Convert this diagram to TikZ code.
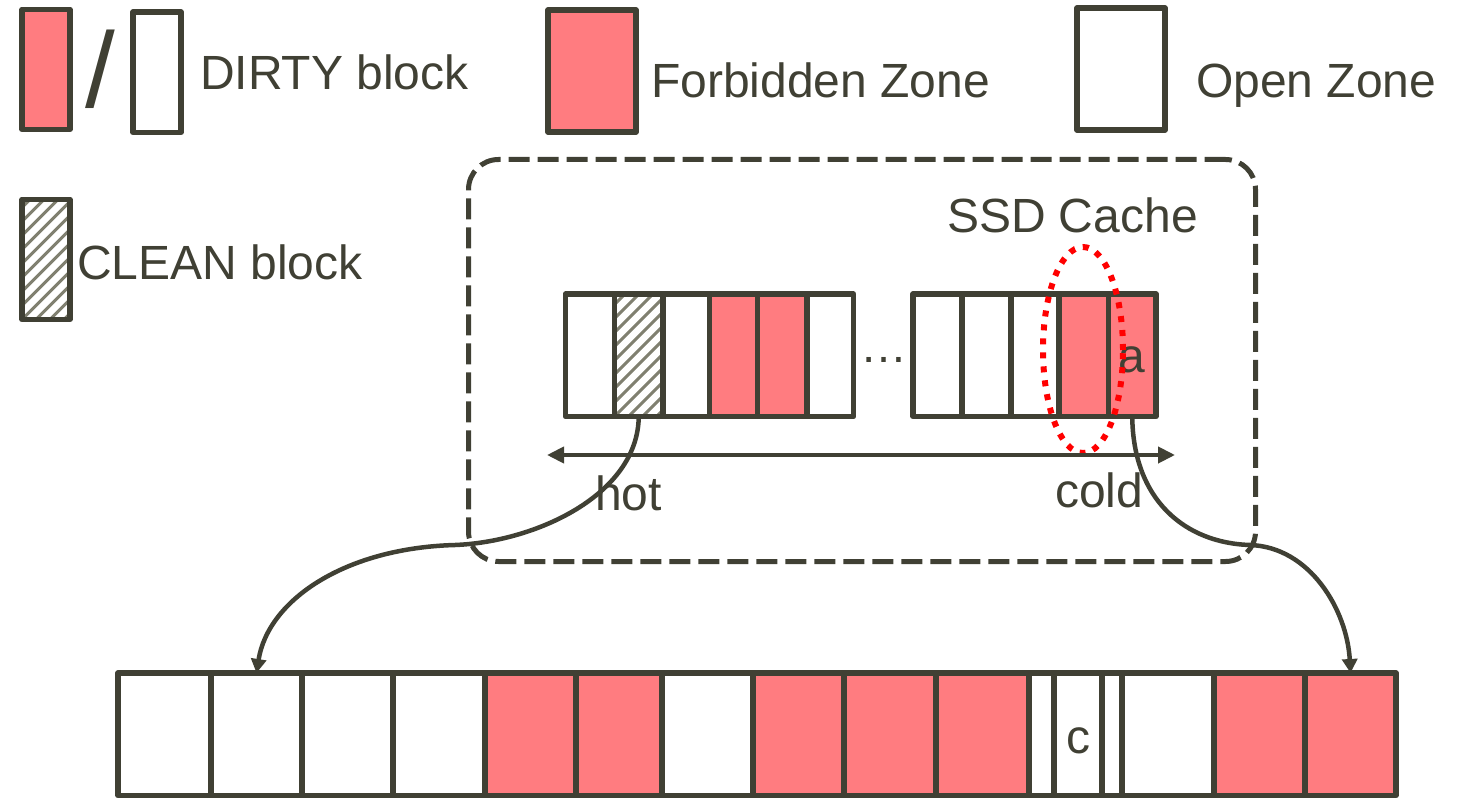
\documentclass[tikz,border=0pt]{standalone}
\usepackage{fontspec}
\setmainfont{Liberation Sans}
\usetikzlibrary{arrows.meta,shapes.geometric}
\definecolor{olive}{RGB}{64,64,52}
\definecolor{zonered}{RGB}{255,124,128}
\definecolor{hatchc}{RGB}{128,128,112}
\definecolor{selred}{RGB}{255,0,0}
\begin{document}
\begin{tikzpicture}[x=1pt,y=-1pt,
  lbl/.style={text=olive, inner sep=0pt, outer sep=0pt, anchor=base west, font=\fontsize{48}{56}\selectfont},
  box/.style={draw=olive, line width=5.5pt, inner sep=0pt, outer sep=0pt, anchor=north west, line join=round},
  cellw/.style={box, fill=white},
  cellr/.style={box, fill=zonered},
  hatched/.style={box, fill=white, path picture={
      \foreach \k in {-14,...,6}{\draw[hatchc, line width=3pt] ([xshift=\k*14pt]path picture bounding box.south west) -- ++(220pt,220pt);}}},
  curve/.style={draw=olive, line width=4.5pt, -{Triangle[length=14pt,width=15pt]}},
  span/.style={draw=olive, line width=4pt, {Triangle[length=17pt,width=16pt]}-{Triangle[length=17pt,width=16pt]}},
  ssdbox/.style={draw=olive, line width=5pt, dash pattern=on 21pt off 8pt, rounded corners=30pt, inner sep=0pt, anchor=north west},
  selring/.style={ellipse, draw=selred, line width=6pt, dash pattern=on 6pt off 8pt, inner sep=0pt}
]
\useasboundingbox (0,0) rectangle (1458,799);

% ---------- legend ----------
\node[cellr, minimum width=48pt, minimum height=120pt] (legdirtyr) at (22,9.5) {};
\node[text=olive, inner sep=0pt, anchor=base west, font=\fontsize{107}{110}\selectfont] (legslash) at (85,108) {/};
\node[cellw, minimum width=48pt, minimum height=120.5pt] (legdirtyw) at (133,12) {};
\node[lbl] (legdirtyt) at (200,90) {DIRTY block};
\node[cellr, minimum width=88pt, minimum height=122pt] (legforb) at (548,10) {};
\node[lbl] (legforbt) at (651,98) {Forbidden Zone};
\node[cellw, minimum width=88pt, minimum height=122pt] (legopen) at (1077,8) {};
\node[lbl] (legopent) at (1196,98) {Open Zone};
\node[hatched, minimum width=48pt, minimum height=120pt] (legclean) at (22,199.5) {};
\node[lbl] (legcleant) at (77,280) {CLEAN block};

% ---------- SSD cache ----------
\node[ssdbox, minimum width=787pt, minimum height=402pt] (ssd) at (466,157) {};
\node[lbl] (ssdt) at (947,233) {SSD Cache};

\foreach \nm/\xa/\xb/\st in {s1/565.5/614.5/cellw, s2/614.5/663/hatched, s3/663/709.5/cellw,
    s4/709.5/757.5/cellr, s5/757.5/807/cellr, s6/807/853.5/cellw,
    r1/913/962/cellw, r2/962/1011/cellw, r3/1011/1059/cellw, r4/1059/1108.5/cellr, r5/1108.5/1156/cellr}{
  \node[\st, minimum width={(\xb-\xa)*1pt}, minimum height=122.5pt] (\nm) at (\xa,294) {};
}
\node[text=olive, inner sep=0pt, anchor=base, font=\fontsize{47}{56}\selectfont] (gap) at (884,362) {…};
\node[text=olive, inner sep=0pt, anchor=base, font=\fontsize{48}{56}\selectfont] (alab) at (1132,372) {a};

\node[selring, minimum width=80pt, minimum height=206pt] (sel) at (1083,350) {};

\coordinate (hotend) at (547,455);
\coordinate (coldend) at (1175,455);
\draw[span] (hotend) -- (coldend);
\node[lbl] (hot) at (595,510) {hot};
\node[lbl] (cold) at (1055,507) {cold};

% ---------- bottom row ----------
\foreach \nm/\xa/\xb/\st in {b1/118/211/cellw, b2/211/302/cellw, b3/302/393/cellw, b4/393/485/cellw,
    b5/485/576/cellr, b6/576/662/cellr, b7/662/753/cellw, b8/753/844/cellr, b9/844/936/cellr,
    b10/936/1029/cellr, b11/1029/1054/cellw, b12/1054/1102/cellw, b13/1102/1122/cellw,
    b14/1122/1214/cellw, b15/1214/1305/cellr, b16/1305/1396/cellr}{
  \node[\st, minimum width={(\xb-\xa)*1pt}, minimum height=122.5pt] (\nm) at (\xa,673) {};
}
\node[text=olive, inner sep=0pt, anchor=base, font=\fontsize{48}{56}\selectfont] (clab) at (1078,753) {c};

% ---------- connectors ----------
\coordinate (lmid) at (455,545);
\coordinate (rmid) at (1250,545);
\draw[curve] (s2.south) .. controls (638,495) and (535,542) .. (lmid)
                        .. controls (345,548) and (268,600) .. (b2.north);
\draw[curve] (r5.south) .. controls (1133,500) and (1185,543) .. (rmid)
                        .. controls (1310,547) and (1347,610) .. (b16.north);
\end{tikzpicture}
\end{document}
